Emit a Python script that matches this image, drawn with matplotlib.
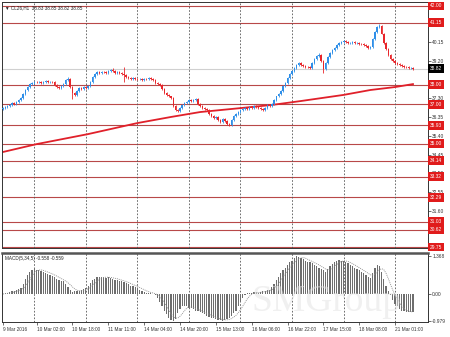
import numpy as np
import pandas as pd
import matplotlib
matplotlib.use('Agg')
import matplotlib.pyplot as plt

# hourly closes, CL26 H1
closes = [36.81, 36.85,
          36.92, 36.95, 37.05, 37.0, 37.12, 37.2, 37.3,
          37.55, 37.75, 37.9,
          38.05, 38.1, 38.15,
          38.12, 38.15, 38.1, 38.14, 38.18, 38.12, 38.15, 38.13,
          38.0, 37.9, 37.85, 37.95, 38.05,
          38.25, 38.3,
          37.9, 37.6, 37.5,
          37.7, 37.85, 37.8, 37.9, 37.85, 37.95,
          38.15, 38.4, 38.55, 38.65,
          38.6, 38.65, 38.62, 38.6, 38.7, 38.75, 38.68, 38.6, 38.65, 38.6, 38.55, 38.5, 38.4,
          38.35, 38.3, 38.32, 38.3, 38.28, 38.3, 38.25, 38.3, 38.28, 38.32, 38.3, 38.25,
          38.1, 38.05, 38.0,
          37.8, 37.6, 37.5, 37.4, 37.3,
          36.9, 36.7, 36.65,
          36.8, 36.95, 37.05, 37.1, 37.2, 37.15, 37.2, 37.25,
          37.0, 36.9, 36.8, 36.75, 36.7,
          36.5, 36.4, 36.3, 36.35, 36.2, 36.1, 36.25, 36.15, 36.0, 35.95,
          36.2, 36.4, 36.5, 36.6, 36.7,
          36.75, 36.8, 36.75, 36.85, 36.8, 36.9, 36.85, 36.8, 36.75, 36.7, 36.8, 36.95, 36.9, 37.0,
          37.2, 37.4, 37.55, 37.7, 37.95, 38.1, 38.35,
          38.55, 38.7, 38.85, 39.0, 39.1,
          39.0, 38.95, 38.9, 38.88, 38.85,
          39.1, 39.3, 39.45, 39.5,
          39.2, 38.8,
          39.1, 39.4, 39.6, 39.75,
          39.85, 40.0, 40.1, 40.15, 40.2,
          40.15, 40.1, 40.12, 40.15, 40.1, 40.12, 40.08, 40.05, 40.0, 39.95,
          39.85, 39.9,
          40.3, 40.7, 40.95, 41.0,
          40.6, 40.1, 39.8, 39.5, 39.3,
          39.2, 39.1, 39.05, 39.0,
          38.95, 38.9, 38.88, 38.85, 38.85, 38.82]
first_open = 36.75
spike_hi = {29: 38.38, 49: 38.85, 54: 38.9, 141: 39.62, 168: 41.1}
spike_lo = {31: 37.25, 54: 38.15, 78: 36.6, 101: 35.9, 143: 38.6}

# 200 MA, read at a few bars
ma_bars = [0, 15, 38, 60, 75, 88, 106, 120, 133, 152, 164, 175, 183]
ma_vals = [34.58, 34.98, 35.49, 36.05, 36.36, 36.61, 36.81, 36.97, 37.17, 37.48, 37.73, 37.88, 38.03]

levels = [42.00, 41.15, 38.00, 37.00, 35.93, 35.00, 34.14, 33.32, 32.29, 31.03, 30.62, 29.75]
price_ticks = [40.15, 39.20, 37.30, 36.35, 35.40, 34.45, 33.50, 32.55, 31.60]
last_price = 38.82

macd = [0.0, 0.02,
        0.05, 0.08, 0.1, 0.12, 0.15, 0.18, 0.2,
        0.35, 0.55, 0.7,
        0.8, 0.88, 0.9,
        0.88, 0.85, 0.82, 0.8, 0.76, 0.72, 0.7, 0.66, 0.6, 0.55, 0.5, 0.48, 0.45, 0.35, 0.25, 0.15, 0.08,
        0.1, 0.12, 0.12, 0.15, 0.18, 0.2,
        0.3, 0.4, 0.5, 0.55, 0.6, 0.62,
        0.62, 0.6, 0.58, 0.6, 0.58, 0.55, 0.52,
        0.5, 0.48, 0.45, 0.42, 0.38, 0.35, 0.3, 0.28, 0.25, 0.2, 0.15,
        0.1, 0.08, 0.05, 0.03, 0.02, 0.0, -0.05,
        -0.15, -0.3, -0.45, -0.6, -0.72, -0.85, -0.92, -0.96,
        -0.9, -0.7, -0.55, -0.45,
        -0.42, -0.45, -0.5, -0.52, -0.55, -0.6, -0.62, -0.65, -0.7, -0.72, -0.78, -0.82, -0.85, -0.88, -0.9,
        -0.92, -0.95, -0.97, -0.92, -0.9, -0.85, -0.8, -0.7, -0.6,
        -0.45, -0.3, -0.15, -0.02,
        0.02, 0.04, 0.05, 0.06, 0.07, 0.05, 0.08, 0.1, 0.12, 0.15, 0.15,
        0.25, 0.35, 0.5, 0.6, 0.75, 0.85, 0.95, 1.05, 1.15, 1.2,
        1.3, 1.36, 1.34, 1.3,
        1.25, 1.2, 1.15, 1.15, 1.1, 1.05, 1.0, 0.95, 0.9, 0.85, 0.8,
        0.9, 1.0, 1.08, 1.15, 1.2, 1.22, 1.2, 1.18, 1.15,
        1.1, 1.05, 1.0, 0.95, 0.9, 0.85, 0.8, 0.75, 0.7, 0.62, 0.58,
        0.75, 0.95, 1.05, 1.02,
        0.8, 0.55, 0.3, 0.1, -0.05,
        -0.2, -0.35, -0.45, -0.55, -0.6, -0.63, -0.65, -0.65, -0.65, -0.66]
macd_ticks = [1.368, 0.00, -0.979]
macd_ticklabels = ['1.368', '0.00', '-0.979']

day_bars = [14, 37, 60, 83, 106, 129, 152, 175]
label_bars = [0, 15, 31, 47, 63, 79, 95, 111, 127, 143, 159, 175]
time_labels = ['9 Mar 2016', '10 Mar 02:00', '10 Mar 18:00', '11 Mar 11:00', '14 Mar 04:00',
               '14 Mar 20:00', '15 Mar 13:00', '16 Mar 06:00', '16 Mar 22:00', '17 Mar 15:00',
               '18 Mar 08:00', '21 Mar 01:00']

plt.rcParams['font.family'] = ['Liberation Sans', 'DejaVu Sans']
fs = 3.5
up_col = '#2f8fe8'
dn_col = '#e8262b'
lvl_col = '#b84848'

closes = np.array(closes)
opens = np.concatenate(([first_open], closes[:-1]))
highs = np.maximum(opens, closes) + 0.05
lows = np.minimum(opens, closes) - 0.05
for k, v in spike_hi.items():
    highs[k] = v
for k, v in spike_lo.items():
    lows[k] = v
xs = np.arange(len(closes))
cols = np.where(closes >= opens, up_col, dn_col)

fig = plt.figure(figsize=(4.5, 3.37), dpi=100)
ax = fig.add_axes([0.0044, 0.264, 0.9467, 0.730])
axm = fig.add_axes([0.0044, 0.0445, 0.9467, 0.205])
xlim = (-0.45, 189.7)

# main price panel
for lv in levels:
    ax.axhline(lv, color=lvl_col, lw=0.8, zorder=1)
ax.axhline(last_price, color='#d0d0d0', lw=0.8, zorder=1)
for d in day_bars:
    ax.axvline(d, color='#555555', lw=0.6, ls=(0, (2, 2)), zorder=1)
ax.vlines(xs, lows, highs, colors=cols, lw=0.6, zorder=3)
body = np.abs(closes - opens)
body = np.maximum(body, 0.015)
ax.bar(xs, body, bottom=np.minimum(opens, closes), width=0.65, color=cols, lw=0, zorder=3)
ax.plot(ma_bars, ma_vals, color='#e0202a', lw=1.3, zorder=2)

ax.set_xlim(*xlim)
ax.set_ylim(29.70, 42.20)
ax.set_xticks([])
ax.yaxis.tick_right()
ax.set_yticks(price_ticks)
ax.set_yticklabels(['%.2f' % t for t in price_ticks])
ax.tick_params(axis='y', length=2, width=0.5, pad=1, labelsize=fs, colors='#333333')
for s in ax.spines.values():
    s.set_color('#333333')
    s.set_linewidth(0.7)

for lv in levels:
    ax.text(1.004, lv, '%.2f' % lv, transform=ax.get_yaxis_transform(), fontsize=fs,
            color='white', va='center', ha='left', zorder=5,
            bbox=dict(boxstyle='square,pad=0.4', fc='#e01b1b', ec='none'))
ax.text(1.004, last_price, '%.2f' % last_price, transform=ax.get_yaxis_transform(), fontsize=fs,
        color='white', va='center', ha='left', zorder=5,
        bbox=dict(boxstyle='square,pad=0.4', fc='black', ec='none'))

ax.text(0.008, 0.985, '\u25bc CL26,H1  38.83 38.85 38.82 38.85', transform=ax.transAxes,
        fontsize=3.3, va='top', ha='left', color='#222222')

# MACD panel
axm.bar(np.arange(len(macd)), macd, width=0.55, color='#6e6e6e', lw=0, zorder=2)
signal = pd.Series(macd).rolling(5, min_periods=1).mean()
axm.plot(np.arange(len(macd)), signal, color='#8a8a8a', lw=0.6, ls=(0, (1.2, 1.2)), zorder=3)
for d in day_bars:
    axm.axvline(d, color='#555555', lw=0.6, ls=(0, (2, 2)), zorder=1)
axm.set_xlim(*xlim)
axm.set_ylim(-1.01, 1.48)
axm.yaxis.tick_right()
axm.set_yticks(macd_ticks)
axm.set_yticklabels(macd_ticklabels)
axm.tick_params(axis='y', length=2, width=0.5, pad=1, labelsize=fs, colors='#333333')
axm.set_xticks(label_bars)
axm.set_xticklabels(time_labels, ha='left')
axm.tick_params(axis='x', length=2, width=0.5, pad=1.5, labelsize=3.4, colors='#333333')
for s in axm.spines.values():
    s.set_color('#333333')
    s.set_linewidth(0.7)
axm.spines['top'].set_linewidth(1.8)
axm.spines['top'].set_color('#555555')
axm.text(0.008, 0.95, 'MACD(5,34,5) -0.558 -0.559', transform=axm.transAxes,
         fontsize=3.3, va='top', ha='left', color='#222222')

fig.text(0.725, 0.052, 'SMGroup', fontsize=27, family='Liberation Serif', color='#e2e2e2',
         alpha=0.5, ha='center', va='bottom', zorder=0)

fig.savefig('out.png', dpi=100)
